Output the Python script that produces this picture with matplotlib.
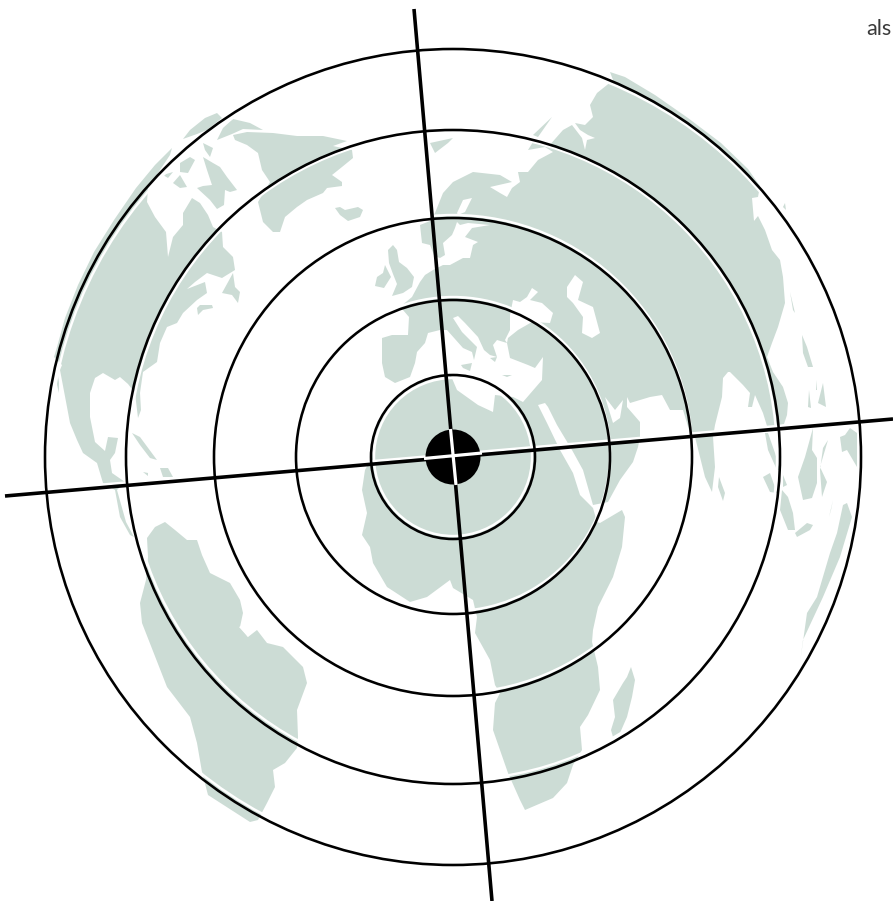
import matplotlib
matplotlib.use("Agg")
import matplotlib.pyplot as plt
from matplotlib.patches import Circle

# target centre and ring radii, in picture pixels
center = (453, 457)
ring_radii = [82, 157, 239, 327, 408]
# white companion of each ring: shift x, shift y, radius change
ring_halo = [(0, 0, -3), (0, -3, 0), (0, -3, 0), (0, -1, -3), (1, 0, -3)]
disc_radius = 27.5

cross_v_x = [414, 492]
cross_v_y = [9, 901]
cross_h_x = [5, 893]
cross_h_y = [496, 419]

label_text = "als"

# land outlines (x, y in pixels)
north_america = [(172,148),(155,165),(136,188),(114,220),(94,252),(78,285),(65,318),(57,347),(54,357),(62,365),
    (60,370),(67,407),(70,423),(77,440),(83,453),(97,463),(103,483),(115,490),(120,517),(130,535),(134,537),
    (126,522),(117,490),(125,482),(112,473),(110,460),(115,453),(118,438),(108,437),(105,451),(95,442),(90,417),
    (90,393),(95,378),(103,373),(115,380),(120,377),(128,384),(135,393),(138,418),(141,410),(140,393),(143,372),
    (157,362),(160,343),(167,327),(177,323),(183,313),(197,300),(207,293),(205,282),(187,289),(195,282),(207,273),
    (222,278),(235,270),(233,257),(223,247),(222,232),(213,227),(208,215),(200,203),(192,198),(183,213),(183,225),
    (173,237),(168,257),(166,232),(155,217),(147,202),(148,188),(170,155)]
baja = [(57,370),(59,382),(59,393),(57,385)]
newfoundland = [(222,293),(233,273),(235,287),(240,292),(238,303),(232,295)]
nova_scotia = [(197,308),(200,305),(212,305),(213,308),(203,310),(198,315)]
arctic_top = [(205,118),(217,113),(222,118),(207,130),(197,134),(183,139),(190,130)]
baffin = [(203,157),(213,163),(220,167),(227,177),(237,190),(230,192),(225,190),(224,205),(217,209),(210,200),
    (197,188),(203,186),(212,185),(207,170)]
arctic_a = [(180,163),(190,157),(195,160),(188,173),(180,172)]
arctic_b = [(173,183),(180,175),(187,187),(180,188)]
arctic_c = [(163,175),(173,172),(168,178)]
arctic_d = [(203,143),(213,148),(210,157),(205,150)]
arctic_e = [(223,128),(233,119),(250,123),(263,130),(243,129),(232,134),(217,140)]
greenland = [(233,135),(247,132),(273,133),(297,136),(323,136),(347,141),(333,146),(352,150),(353,158),(342,167),
    (332,175),(342,182),(342,186),(327,188),(323,193),(307,200),(297,207),(285,217),(280,232),(273,232),(263,222),
    (258,202),(270,182),(262,170),(258,153),(247,145),(235,140)]
iceland = [(335,208),(340,207),(345,210),(358,207),(363,210),(360,217),(348,221),(340,215)]
britain = [(388,250),(393,245),(397,250),(399,262),(407,268),(414,277),(412,287),(403,293),(392,296),(397,284),
    (393,274),(389,263)]
ireland = [(377,277),(383,273),(385,265),(391,277),(384,288),(375,286)]
spitsbergen = [(430,143),(453,138),(448,143),(435,153)]
novaya = [(533,135),(552,117),(538,137)]
eurafrasia = [(451,376),(457,390),(478,405),(493,412),(495,395),(513,397),(523,402),(542,380),(543,357),(535,368),
    (528,365),(510,358),(507,343),(497,340),(493,345),(497,357),(490,355),(484,350),(478,337),(465,323),(458,316),
    (453,318),(462,332),(477,347),(474,360),(472,352),(463,348),(447,330),(440,330),(428,333),(425,343),(417,352),
    (415,363),(410,377),(395,383),(385,377),(382,363),(382,338),(392,335),(408,335),(409,317),(403,310),(400,307),
    (412,297),(420,282),(425,275),(433,270),(443,265),(450,265),(463,258),(470,258),(473,245),(478,242),(465,237),
    (472,228),(490,225),(468,223),(460,225),(457,222),(455,228),(452,235),(443,243),(445,255),(440,258),(437,257),
    (434,255),(430,245),(422,243),(420,225),(430,221),(435,213),(443,193),(453,182),(473,172),(500,175),(512,182),
    (490,187),(500,193),(507,197),(512,188),(520,182),(518,172),(528,172),(538,160),(553,152),(545,147),(528,150),
    (533,142),(548,147),(563,130),(572,125),(582,138),(585,150),(587,140),(595,138),(588,135),(580,130),(575,123),
    (585,125),(593,117),(590,105),(597,93),(607,85),(613,80),(610,72),(625,77),(655,95),(688,118),(721,143),
    (748,169),(760,186),(758,197),(752,198),(754,221),(758,216),(765,230),(772,250),(780,260),(783,277),(785,303),
    (778,327),(772,343),(767,357),(773,372),(783,387),(788,403),(787,415),(784,424),(775,427),(767,426),(763,413),
    (755,395),(752,407),(748,407),(750,393),(743,385),(730,372),(728,372),(723,378),(722,397),(715,425),(713,437),
    (715,467),(712,492),(705,477),(695,437),(690,433),(683,410),(670,410),(662,395),(650,397),(630,403),(627,397),
    (627,407),(640,422),(640,437),(638,447),(633,462),(620,480),(608,502),(593,505),(583,470),(572,450),(557,425),
    (548,407),(545,403),(538,405),(547,423),(560,450),(573,473),(580,495),(593,508),(597,522),(600,523),(622,510),
    (625,517),(622,547),(613,577),(598,607),(593,630),(592,642),(598,667),(600,690),(588,715),(580,727),(582,750),
    (573,765),(567,783),(553,798),(525,810),(520,800),(508,773),(493,730),(495,703),(500,693),(495,685),(490,660),
    (475,633),(477,617),(473,600),(453,588),(450,580),(427,597),(410,602),(387,587),(373,563),(370,547),(362,535),
    (367,513),(362,490),(365,470),(372,457),(378,425),(396,399),(422,382)]
sicily = [(461,365),(472,363),(470,371),(463,368)]
cyprus = [(502,375),(512,375),(507,377)]
crete = [(490,358),(497,357),(495,362)]
sri_lanka = [(719,477),(725,493),(723,501),(718,487)]
madagascar = [(631,667),(635,680),(632,697),(627,717),(620,733),(613,737),(611,730),(615,717),(613,700),(623,683),(627,677)]
malay = [(765,433),(768,433),(775,453),(780,470),(777,470),(768,450)]
sumatra = [(813,428),(812,450),(817,458),(817,483),(812,498),(803,500),(798,477),(805,457)]
java = [(823,448),(828,440),(820,467),(827,482),(822,497),(820,470)]
east_isle = [(850,428),(857,433),(857,467),(847,450),(842,452),(840,437),(845,435)]
isle_a = [(823,383),(826,407),(818,403)]
isle_b = [(817,380),(817,390),(816,390)]
isle_c = [(809,390),(811,408),(808,407)]
borneo = [(763,477),(770,473),(777,493),(770,492)]
isle_d = [(782,490),(788,497),(793,513),(795,530),(788,530),(780,510)]
isle_e = [(783,475),(787,485),(783,487)]
isle_f = [(795,533),(807,523),(813,525),(810,530),(797,537)]
australia = [(847,503),(852,517),(840,557),(823,597),(803,640),(800,663),(807,613),(817,597),(830,553),(837,533),(843,505)]
sliver = [(833,500),(829,517),(831,510)]
japan_a = [(790,292),(795,313),(793,310)]
japan_b = [(802,335),(807,347),(813,367),(808,367),(803,353)]
kuril = [(785,203),(786,210),(783,207)]
south_america = [(146,580),(140,603),(142,623),(167,687),(190,717),(197,743),(202,772),(208,795),(250,822),(258,820),
    (267,803),(275,787),(273,770),(285,763),(297,748),(298,737),(297,710),(307,683),(303,667),(283,647),(267,643),
    (257,630),(248,637),(240,627),(243,613),(240,600),(230,583),(210,573),(202,555),(197,540),(187,540),(175,530),
    (165,522),(155,527),(147,538),(148,557)]
cuba = [(132,433),(140,437),(157,460),(150,458),(140,445)]
hispaniola = [(160,468),(168,468),(173,477),(163,477)]
jamaica = [(143,472),(148,473),(148,476)]

land_shapes = [north_america, baja, newfoundland, nova_scotia, arctic_top, baffin, arctic_a, arctic_b, arctic_c,
    arctic_d, arctic_e, greenland, iceland, britain, ireland, spitsbergen, novaya, eurafrasia, sicily, cyprus, crete,
    sri_lanka, madagascar, malay, sumatra, java, east_isle, isle_a, isle_b, isle_c, borneo, isle_d, isle_e, isle_f,
    australia, sliver, japan_a, japan_b, kuril, south_america, cuba, hispaniola, jamaica]

# inland water
black_sea = [(510,315),(513,300),(520,302),(527,297),(532,288),(538,292),(530,300),(542,303),(553,313),(550,323),
    (532,322),(518,330),(508,338),(507,343),(505,340),(510,330)]
caspian = [(567,287),(575,275),(583,282),(578,300),(593,307),(600,333),(592,338),(582,333),(583,317),(573,303),(567,297)]
persian_gulf = [(605,397),(613,423),(620,418),(623,400),(615,410)]
ladoga = [(457,213),(463,200),(472,198),(465,212),(458,215)]
amazon_mouth = [(239,627),(245,624),(251,626),(248,637)]
water_shapes = [black_sea, caspian, persian_gulf, ladoga, amazon_mouth]

LAND = "#ccdcd5"
PX = 0.72  # one pixel in points at 100 dpi

fig = plt.figure(figsize=(8.93, 9.01), dpi=100)
ax = fig.add_axes([0, 0, 1, 1])
ax.set_xlim(0, 893)
ax.set_ylim(901, 0)
ax.axis("off")

for shape in land_shapes:
    xs, ys = zip(*shape)
    ax.fill(xs, ys, color=LAND, lw=0, zorder=1)
for shape in water_shapes:
    xs, ys = zip(*shape)
    ax.fill(xs, ys, color="white", lw=0, zorder=2)

# rings, each with its slightly offset white twin
for r, (dx, dy, dr) in zip(ring_radii, ring_halo):
    ax.add_patch(Circle((center[0] + dx, center[1] + dy), r + dr, fill=False, ec="white", lw=2.4 * PX, zorder=3))
for r in ring_radii:
    ax.add_patch(Circle(center, r, fill=False, ec="black", lw=2.6 * PX, zorder=4))

# crosshair
ax.plot(cross_h_x, [y - 3 for y in cross_h_y], color="white", lw=2.5 * PX, zorder=3)
ax.plot(cross_v_x, cross_v_y, color="black", lw=3.6 * PX, zorder=5, solid_capstyle="butt")
ax.plot(cross_h_x, cross_h_y, color="black", lw=3.6 * PX, zorder=5, solid_capstyle="butt")
ax.add_patch(Circle(center, disc_radius, fc="black", ec="none", zorder=6))
ax.plot([450.5, 456], [429, 485], color="white", lw=3.2 * PX, zorder=7, solid_capstyle="butt")
ax.plot([424, 482], [458.5, 453], color="white", lw=3.2 * PX, zorder=7, solid_capstyle="butt")

ax.text(866, 35, label_text, fontsize=15.5, family="Lato", fontweight="normal", color="#3a3a3a", va="baseline", ha="left")

fig.savefig("out.png", dpi=100)
